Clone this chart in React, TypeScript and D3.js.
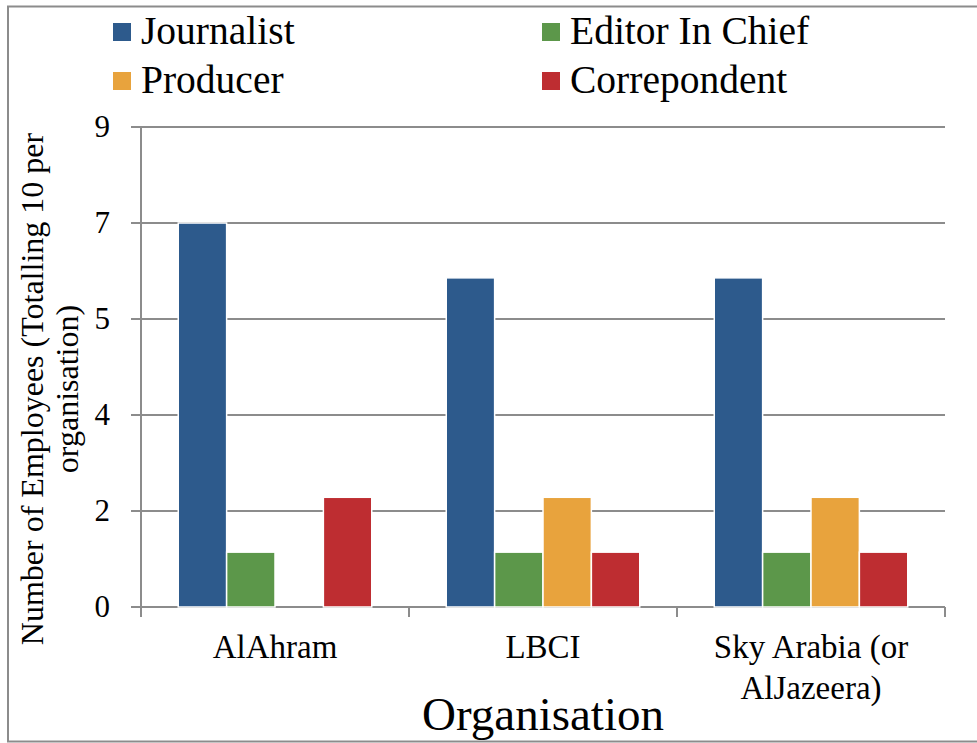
import React from "react";
import * as d3 from "d3";

const organisations = ["AlAhram", "LBCI", "Sky Arabia (or AlJazeera)"];
const orgLines = [["AlAhram"], ["LBCI"], ["Sky Arabia (or", "AlJazeera)"]];
const roles = ["Journalist", "Editor In Chief", "Producer", "Correpondent"];
const roleColors = ["#2D5A8C", "#5C974A", "#E8A33D", "#BE2D31"];

const journalist = [7, 6, 6];
const editorInChief = [1, 1, 1];
const producer = [0, 2, 2];
const correpondent = [2, 1, 1];
const seriesValues = [journalist, editorInChief, producer, correpondent];

// axis max is 8.75, Excel rounded the labels
const yTicks = [0, 1.75, 3.5, 5.25, 7, 8.75];
const yTickLabels = ["0", "2", "4", "5", "7", "9"];

const W = 977;
const H = 743;
const font = "'Liberation Serif', 'Times New Roman', serif";
const grid = "#8c8c8c";

const App = () => {
  const x0 = d3.scaleBand().domain(organisations).range([141, 945]);
  const bw = x0.bandwidth();
  const x1 = d3.scaleBand().domain(roles).range([bw * 0.139, bw * 0.861]);
  const y = d3.scaleLinear().domain([0, 8.75]).range([607, 127]);

  return (
    <svg width={W} height={H} style={{ position: "absolute", left: 0, top: 0 }}>
      <rect x={0} y={0} width={W} height={H} fill="#fff" />
      <rect x={8} y={6.5} width={W} height={735} fill="none" stroke={grid} strokeWidth={2} />

      {/* legend */}
      {roles.map((r, i) => {
        const col = i % 2 === 0 ? 0 : 1;
        const row = i < 2 ? 0 : 1;
        const lx = col === 0 ? 113 : 542;
        const ly = row === 0 ? 23 : 72;
        return (
          <g key={r}>
            <rect x={lx} y={ly} width={18} height={18} fill={roleColors[i]} />
            <text x={lx + 28} y={ly + 21} fontFamily={font} fontSize={39.5} fill="#000">
              {r}
            </text>
          </g>
        );
      })}

      {/* grid + y axis */}
      {yTicks.map((t, i) => (
        <g key={t}>
          <line x1={131} x2={945} y1={y(t)} y2={y(t)} stroke={grid} strokeWidth={2} />
          <text x={110} y={y(t)} dy="0.33em" textAnchor="end" fontFamily={font} fontSize={31} fill="#000">
            {yTickLabels[i]}
          </text>
        </g>
      ))}
      <line x1={141} x2={141} y1={127} y2={617} stroke={grid} strokeWidth={2} />
      {[...organisations.map((o) => x0(o)!), 945].map((xv, i) => (
        <line key={i} x1={xv} x2={xv} y1={607} y2={617} stroke={grid} strokeWidth={2} />
      ))}

      {/* bars */}
      {organisations.map((o, oi) => (
        <g key={o} transform={`translate(${x0(o)},0)`}>
          {roles.map((r, ri) => {
            const v = seriesValues[ri][oi];
            if (!v) return null;
            return (
              <rect
                key={r}
                x={x1(r)}
                y={y(v)}
                width={x1.bandwidth()}
                height={y(0) - y(v)}
                fill={roleColors[ri]}
                stroke="#fff"
                strokeWidth={1.5}
              />
            );
          })}
        </g>
      ))}

      {/* x labels */}
      {organisations.map((o, oi) => (
        <text
          key={o}
          x={x0(o)! + bw / 2}
          y={658}
          textAnchor="middle"
          fontFamily={font}
          fontSize={33}
          fill="#000"
        >
          {orgLines[oi].map((l, li) => (
            <tspan key={li} x={x0(o)! + bw / 2} dy={li === 0 ? 0 : 41}>
              {l}
            </tspan>
          ))}
        </text>
      ))}

      <text x={543} y={730} textAnchor="middle" fontFamily={font} fontSize={47} fill="#000">
        Organisation
      </text>

      <text
        transform="translate(43,389) rotate(-90)"
        textAnchor="middle"
        fontFamily={font}
        fontSize={32}
        fill="#000"
      >
        <tspan x={0} dy={0}>Number of Employees (Totalling 10 per</tspan>
        <tspan x={0} dy={35}>organisation)</tspan>
      </text>
    </svg>
  );
};

export default App;
